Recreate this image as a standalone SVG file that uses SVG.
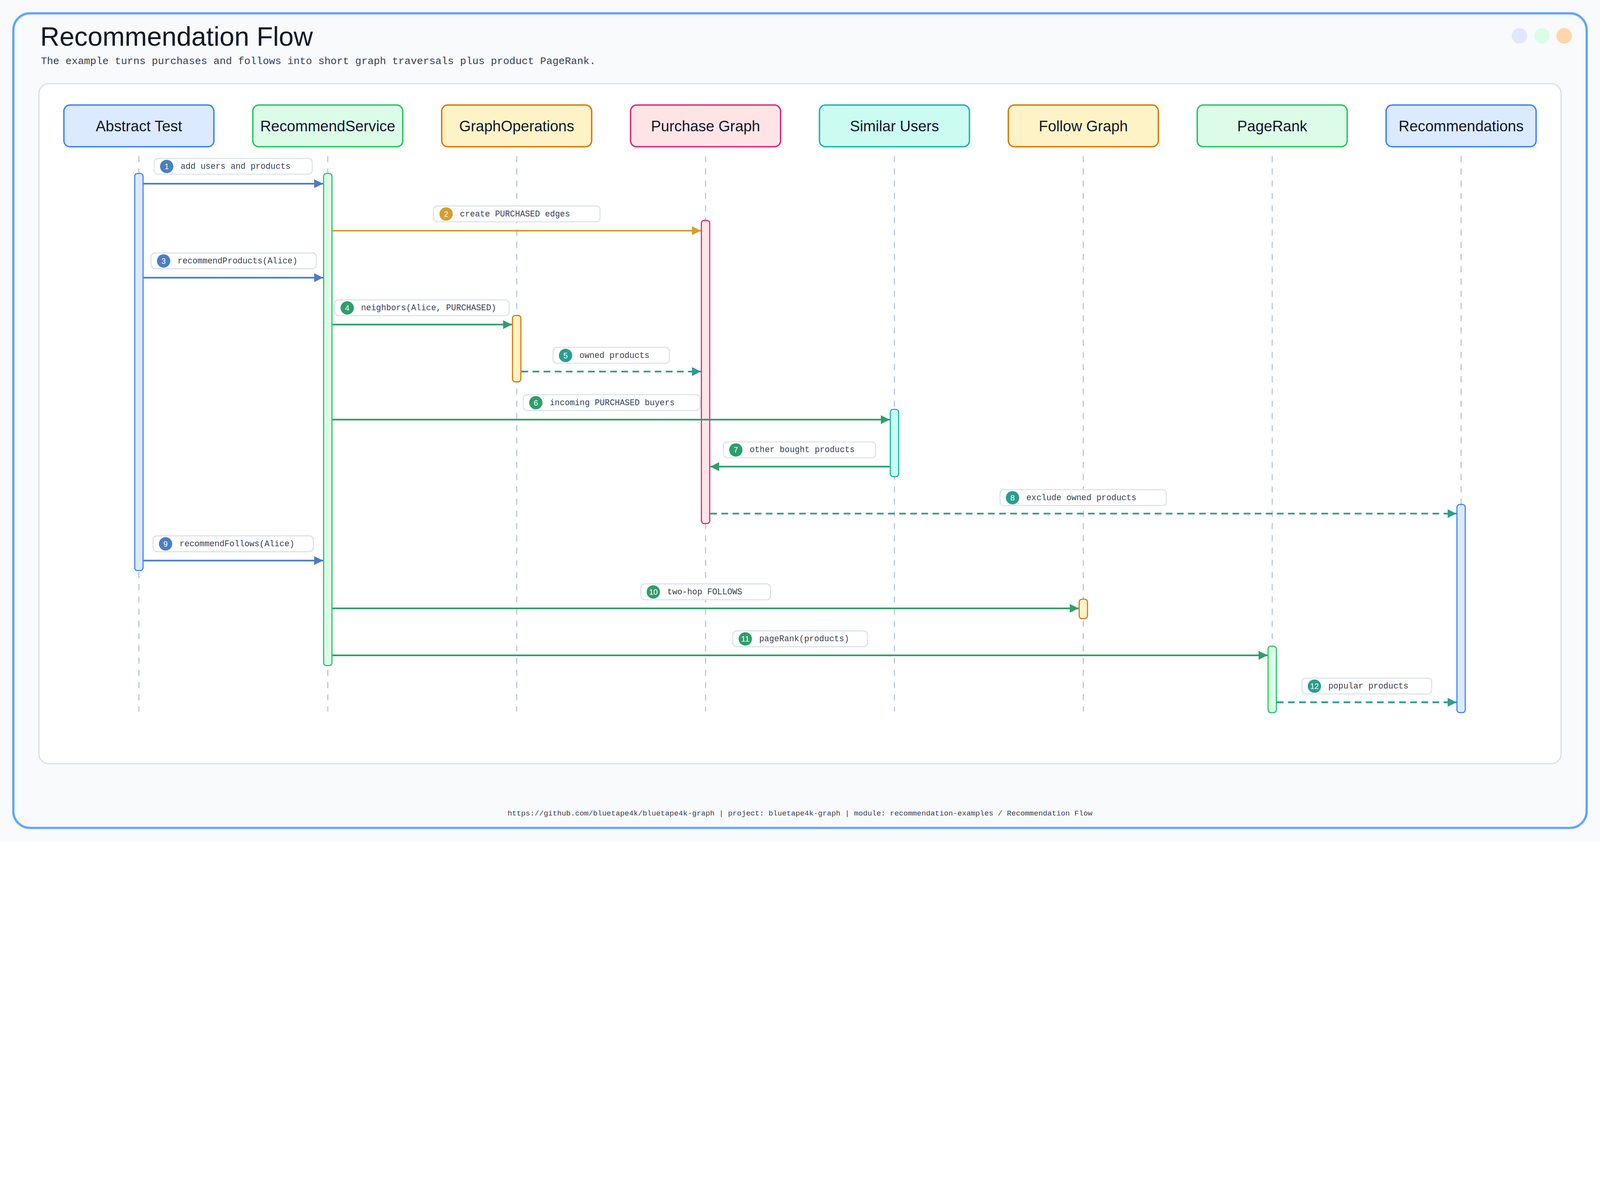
<svg xmlns="http://www.w3.org/2000/svg" width="5760" height="3030" viewBox="0 0 5760 3030" style="max-width:100%;height:auto">
<style>
.node rect{stroke-width:5}
.nt{font-family:"Liberation Sans",sans-serif;font-size:54px;fill:#111827;text-anchor:middle;dominant-baseline:central}
.life{stroke:#b8c6d9;stroke-width:4;stroke-dasharray:22 22}
.lb{fill:#fff;stroke:#dbe3ec;stroke-width:4}
.lt{font-family:"Liberation Mono",monospace;font-size:30px;fill:#374151;dominant-baseline:central}
.nn{font-family:"Liberation Sans",sans-serif;font-size:28px;fill:#fff;text-anchor:middle;dominant-baseline:central}
.m{stroke-width:6;fill:none}
.d{stroke-dasharray:24 16}
</style>
<defs>
<marker id="ab" viewBox="0 0 10 10" refX="10" refY="5" markerWidth="32" markerHeight="32" markerUnits="userSpaceOnUse" orient="auto"><path d="M0,0L10,5L0,10z" fill="#4a7fc1"/></marker>
<marker id="ao" viewBox="0 0 10 10" refX="10" refY="5" markerWidth="32" markerHeight="32" markerUnits="userSpaceOnUse" orient="auto"><path d="M0,0L10,5L0,10z" fill="#d69e2e"/></marker>
<marker id="ag" viewBox="0 0 10 10" refX="10" refY="5" markerWidth="32" markerHeight="32" markerUnits="userSpaceOnUse" orient="auto"><path d="M0,0L10,5L0,10z" fill="#2f9e6a"/></marker>
<marker id="at" viewBox="0 0 10 10" refX="10" refY="5" markerWidth="32" markerHeight="32" markerUnits="userSpaceOnUse" orient="auto"><path d="M0,0L10,5L0,10z" fill="#2a9d8f"/></marker>
</defs>
<rect width="5760" height="3030" fill="#f8fafc"/>
<rect x="48" y="48" width="5664" height="2931" rx="60" fill="#f8fafc" stroke="#60a5fa" stroke-width="8"/>
<text x="145" y="165" font-family="Liberation Sans,sans-serif" font-size="96" fill="#111827">Recommendation Flow</text>
<text x="147" y="230" font-family="Liberation Mono,monospace" font-size="37" fill="#374151">The example turns purchases and follows into short graph traversals plus product PageRank.</text>
<circle cx="5470" cy="129" r="28" fill="#e0e7ff"/>
<circle cx="5551" cy="129" r="28" fill="#dcfce7"/>
<circle cx="5631" cy="129" r="28" fill="#fed7aa"/>
<rect x="140" y="301" width="5480" height="2447" rx="36" fill="#fff" stroke="#dbe3ec" stroke-width="5"/>

<g id="lifelines">
<line class="life" x1="500" y1="562" x2="500" y2="2560"/>
<line class="life" x1="1180" y1="562" x2="1180" y2="2560"/>
<line class="life" x1="1860" y1="562" x2="1860" y2="2560"/>
<line class="life" x1="2540" y1="562" x2="2540" y2="2560"/>
<line class="life" x1="3220" y1="562" x2="3220" y2="2560"/>
<line class="life" x1="3900" y1="562" x2="3900" y2="2560"/>
<line class="life" x1="4580" y1="562" x2="4580" y2="2560"/>
<line class="life" x1="5260" y1="562" x2="5260" y2="2560"/>
</g>

<g id="n1" class="node"><rect x="230" y="378" width="540" height="150" rx="22" fill="#dbeafe" stroke="#3b82f6"/><text class="nt" x="500" y="453">Abstract Test</text></g>
<g id="n2" class="node"><rect x="910" y="378" width="540" height="150" rx="22" fill="#dcfce7" stroke="#22c55e"/><text class="nt" x="1180" y="453">RecommendService</text></g>
<g id="n3" class="node"><rect x="1590" y="378" width="540" height="150" rx="22" fill="#fef3c7" stroke="#d97706"/><text class="nt" x="1860" y="453">GraphOperations</text></g>
<g id="n4" class="node"><rect x="2270" y="378" width="540" height="150" rx="22" fill="#ffe4e6" stroke="#db2777"/><text class="nt" x="2540" y="453">Purchase Graph</text></g>
<g id="n5" class="node"><rect x="2950" y="378" width="540" height="150" rx="22" fill="#ccfbf1" stroke="#14b8a6"/><text class="nt" x="3220" y="453">Similar Users</text></g>
<g id="n6" class="node"><rect x="3630" y="378" width="540" height="150" rx="22" fill="#fef3c7" stroke="#d97706"/><text class="nt" x="3900" y="453">Follow Graph</text></g>
<g id="n7" class="node"><rect x="4310" y="378" width="540" height="150" rx="22" fill="#dcfce7" stroke="#22c55e"/><text class="nt" x="4580" y="453">PageRank</text></g>
<g id="n8" class="node"><rect x="4990" y="378" width="540" height="150" rx="22" fill="#dbeafe" stroke="#3b82f6"/><text class="nt" x="5260" y="453">Recommendations</text></g>

<g id="activations" stroke-width="4">
<rect x="485" y="624" width="30" height="1429" rx="10" fill="#dbeafe" stroke="#3b82f6"/>
<rect x="1165" y="624" width="30" height="1771" rx="10" fill="#dcfce7" stroke="#22c55e"/>
<rect x="1845" y="1135" width="30" height="239" rx="10" fill="#fef3c7" stroke="#d97706"/>
<rect x="2525" y="793" width="30" height="1091" rx="10" fill="#ffe4e6" stroke="#db2777"/>
<rect x="3205" y="1473" width="30" height="242" rx="10" fill="#ccfbf1" stroke="#14b8a6"/>
<rect x="3885" y="2156" width="30" height="70" rx="10" fill="#fef3c7" stroke="#d97706"/>
<rect x="4565" y="2325" width="30" height="239" rx="10" fill="#dcfce7" stroke="#22c55e"/>
<rect x="5245" y="1815" width="30" height="749" rx="10" fill="#dbeafe" stroke="#3b82f6"/>
</g>

<g id="connectors">
<line class="m" x1="517" y1="661" x2="1163" y2="661" stroke="#4a7fc1" marker-end="url(#ab)"/>
<line class="m" x1="1197" y1="830" x2="2523" y2="830" stroke="#d69e2e" marker-end="url(#ao)"/>
<line class="m" x1="517" y1="999" x2="1163" y2="999" stroke="#4a7fc1" marker-end="url(#ab)"/>
<line class="m" x1="1197" y1="1168" x2="1843" y2="1168" stroke="#2f9e6a" marker-end="url(#ag)"/>
<line class="m d" x1="1877" y1="1337" x2="2523" y2="1337" stroke="#2a9d8f" marker-end="url(#at)"/>
<line class="m" x1="1197" y1="1510" x2="3203" y2="1510" stroke="#2f9e6a" marker-end="url(#ag)"/>
<line class="m" x1="3203" y1="1679" x2="2557" y2="1679" stroke="#2f9e6a" marker-end="url(#ag)"/>
<line class="m d" x1="2557" y1="1848" x2="5243" y2="1848" stroke="#2a9d8f" marker-end="url(#at)"/>
<line class="m" x1="517" y1="2017" x2="1163" y2="2017" stroke="#4a7fc1" marker-end="url(#ab)"/>
<line class="m" x1="1197" y1="2189" x2="3883" y2="2189" stroke="#2f9e6a" marker-end="url(#ag)"/>
<line class="m" x1="1197" y1="2358" x2="4563" y2="2358" stroke="#2f9e6a" marker-end="url(#ag)"/>
<line class="m d" x1="4597" y1="2527" x2="5243" y2="2527" stroke="#2a9d8f" marker-end="url(#at)"/>
</g>

<g id="labels">
<rect class="lb" x="555" y="570" width="569" height="57" rx="14"/><circle cx="600" cy="599" r="24" fill="#4a7fc1"/><text class="nn" x="600" y="599">1</text><text class="lt" x="650" y="599">add users and products</text>
<rect class="lb" x="1561" y="741" width="599" height="57" rx="14"/><circle cx="1606" cy="770" r="24" fill="#d69e2e"/><text class="nn" x="1606" y="770">2</text><text class="lt" x="1656" y="770">create PURCHASED edges</text>
<rect class="lb" x="544" y="910" width="595" height="57" rx="14"/><circle cx="589" cy="939" r="24" fill="#4a7fc1"/><text class="nn" x="589" y="939">3</text><text class="lt" x="639" y="939">recommendProducts(Alice)</text>
<rect class="lb" x="1205" y="1079" width="628" height="57" rx="14"/><circle cx="1250" cy="1108" r="24" fill="#2f9e6a"/><text class="nn" x="1250" y="1108">4</text><text class="lt" x="1300" y="1108">neighbors(Alice, PURCHASED)</text>
<rect class="lb" x="1991" y="1250" width="419" height="57" rx="14"/><circle cx="2036" cy="1279" r="24" fill="#2a9d8f"/><text class="nn" x="2036" y="1279">5</text><text class="lt" x="2086" y="1279">owned products</text>
<rect class="lb" x="1884" y="1420" width="636" height="57" rx="14"/><circle cx="1929" cy="1449" r="24" fill="#2f9e6a"/><text class="nn" x="1929" y="1449">6</text><text class="lt" x="1979" y="1449">incoming PURCHASED buyers</text>
<rect class="lb" x="2604" y="1590" width="548" height="57" rx="14"/><circle cx="2649" cy="1619" r="24" fill="#2f9e6a"/><text class="nn" x="2649" y="1619">7</text><text class="lt" x="2699" y="1619">other bought products</text>
<rect class="lb" x="3600" y="1762" width="599" height="57" rx="14"/><circle cx="3645" cy="1791" r="24" fill="#2a9d8f"/><text class="nn" x="3645" y="1791">8</text><text class="lt" x="3695" y="1791">exclude owned products</text>
<rect class="lb" x="551" y="1928" width="577" height="57" rx="14"/><circle cx="596" cy="1957" r="24" fill="#4a7fc1"/><text class="nn" x="596" y="1957">9</text><text class="lt" x="646" y="1957">recommendFollows(Alice)</text>
<rect class="lb" x="2307" y="2101" width="467" height="57" rx="14"/><circle cx="2352" cy="2130" r="24" fill="#2f9e6a"/><text class="nn" x="2352" y="2130">10</text><text class="lt" x="2402" y="2130">two-hop FOLLOWS</text>
<rect class="lb" x="2638" y="2270" width="485" height="57" rx="14"/><circle cx="2683" cy="2299" r="24" fill="#2f9e6a"/><text class="nn" x="2683" y="2299">11</text><text class="lt" x="2733" y="2299">pageRank(products)</text>
<rect class="lb" x="4687" y="2440" width="467" height="57" rx="14"/><circle cx="4732" cy="2469" r="24" fill="#2a9d8f"/><text class="nn" x="4732" y="2469">12</text><text class="lt" x="4782" y="2469">popular products</text>
</g>

<text x="2880" y="2934" text-anchor="middle" font-family="Liberation Mono,monospace" font-size="27" fill="#374151">https://github.com/bluetape4k/bluetape4k-graph | project: bluetape4k-graph | module: recommendation-examples / Recommendation Flow</text>
</svg>
